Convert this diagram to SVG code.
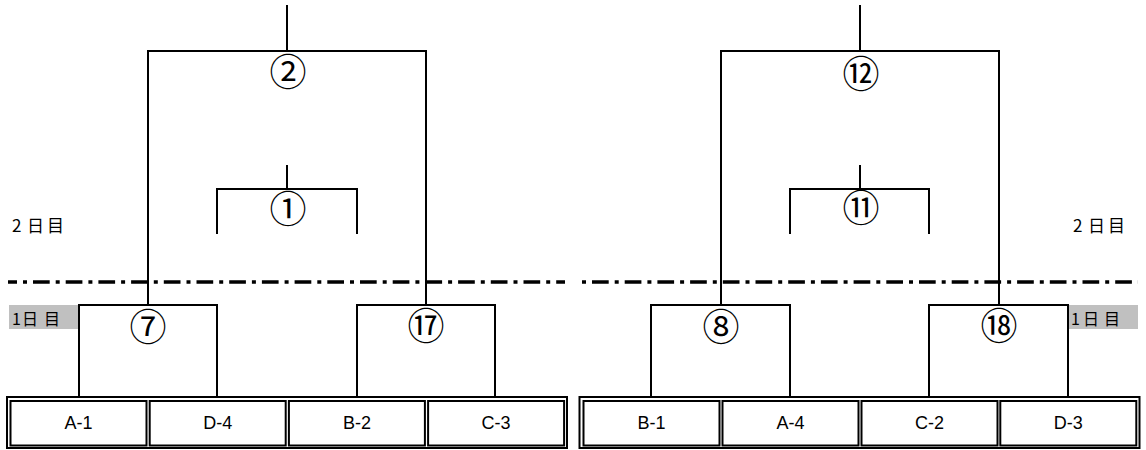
<svg xmlns="http://www.w3.org/2000/svg" width="1146" height="450" viewBox="0 0 1146 450">
<style>
.ln{fill:none;stroke:#000;stroke-width:2}
.dd{fill:none;stroke:#000;stroke-width:3.5;stroke-dasharray:16.7 6 4 6}
.cell{fill:#fff;stroke:#000;stroke-width:2}
.num{font-family:"Noto Sans CJK JP","Noto Sans",sans-serif;font-size:37px;text-anchor:middle;fill:#000}
.ct{font-family:"Liberation Sans",Arial,sans-serif;font-size:18px;text-anchor:middle;fill:#000}
.day{font-family:"Noto Sans CJK JP","Noto Sans",sans-serif;font-size:17px;fill:#000}
.tag{fill:#c0c0c0}
</style>
<rect width="1146" height="450" fill="#fff"/>
<g id="connectors">
<path class="ln" d="M287,5V51M148,305V51H426V305"/>
<path class="ln" d="M287,165V189M217,234V189H357V234"/>
<path class="ln" d="M860,5V51M721,305V51H999V305"/>
<path class="ln" d="M860,165V189M790,234V189H929V234"/>
<path class="dd" d="M8,282H565" stroke-dashoffset="7.7"/>
<path class="dd" d="M582,282H1138" stroke-dashoffset="22.7"/>
</g>
<g id="labels">
<text class="day" x="12 27 47" y="232">2日目</text>
<text class="day" x="1073 1088 1108" y="232">2日目</text>
<rect class="tag" x="9" y="305" width="70" height="24"/>
<text class="day" x="12 22 44" y="325" style="font-size:16px">1日目</text>
<rect class="tag" x="1068" y="305" width="70" height="24"/>
<text class="day" x="1071 1083 1104" y="325" style="font-size:16px">1日目</text>
</g>
<g id="m2"><text class="num" x="288" y="86">②</text></g>
<g id="m1"><text class="num" x="288" y="223">①</text></g>
<g id="m12"><text class="num" x="861" y="88">⑫</text></g>
<g id="m11"><text class="num" x="861" y="222">⑪</text></g>
<g id="m7"><path class="ln" d="M79,397V305H217V397"/><text class="num" x="148" y="341">⑦</text></g>
<g id="m17"><path class="ln" d="M357,397V305H495V397"/><text class="num" x="426" y="340">⑰</text></g>
<g id="m8"><path class="ln" d="M651,397V305H790V397"/><text class="num" x="721" y="341">⑧</text></g>
<g id="m18"><path class="ln" d="M929,397V305H1068V397"/><text class="num" x="999" y="340">⑱</text></g>
<g id="tableL">
<rect class="cell" x="7" y="397" width="560" height="51"/>
<rect class="cell" x="10.5" y="401" width="136" height="44.5"/>
<rect class="cell" x="149.7" y="401" width="136" height="44.5"/>
<rect class="cell" x="288.9" y="401" width="136" height="44.5"/>
<rect class="cell" x="428.1" y="401" width="136" height="44.5"/>
<text class="ct" x="78.5" y="429">A-1</text>
<text class="ct" x="217.7" y="429">D-4</text>
<text class="ct" x="356.9" y="429">B-2</text>
<text class="ct" x="496.1" y="429">C-3</text>
</g>
<g id="tableR">
<rect class="cell" x="579.5" y="397" width="560" height="51"/>
<rect class="cell" x="583.5" y="401" width="136" height="44.5"/>
<rect class="cell" x="722.5" y="401" width="136" height="44.5"/>
<rect class="cell" x="861.5" y="401" width="136" height="44.5"/>
<rect class="cell" x="1000.3" y="401" width="136" height="44.5"/>
<text class="ct" x="651.5" y="429">B-1</text>
<text class="ct" x="790.5" y="429">A-4</text>
<text class="ct" x="929.5" y="429">C-2</text>
<text class="ct" x="1068.3" y="429">D-3</text>
</g>
</svg>
